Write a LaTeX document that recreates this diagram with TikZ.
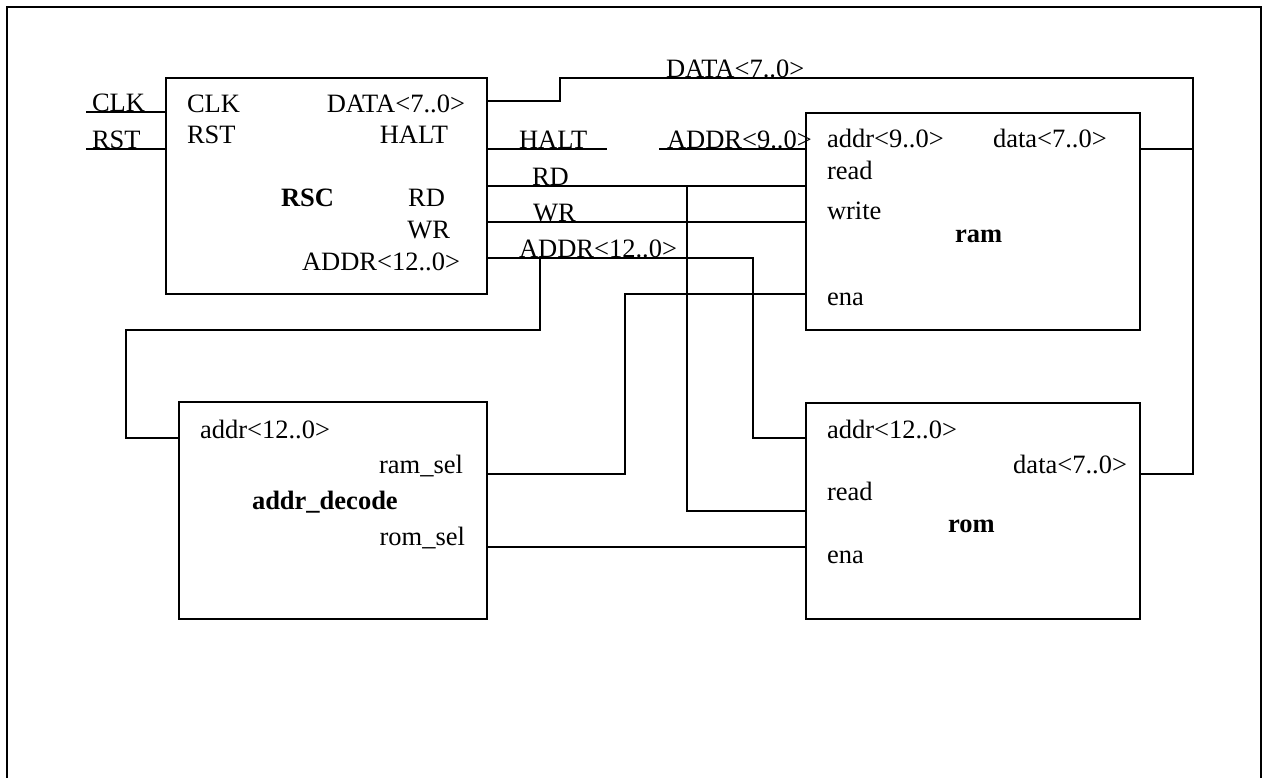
\documentclass[tikz,border=0pt]{standalone}
\usepackage{fontspec}
\setmainfont{Liberation Serif}
\begin{document}
\begin{tikzpicture}[x=1pt,y=-1pt,line width=1.7pt,
  blk/.style={draw,line width=1.8pt,anchor=north west,inner sep=0pt,outer sep=0pt},
  lbl/.style={font=\fontsize{26.5}{30}\selectfont,inner sep=0pt,outer sep=0pt},
  bl/.style={lbl,font=\fontsize{26.5}{30}\selectfont\bfseries},
  wire/.style={draw,line width=1.7pt}]
\useasboundingbox (0,0) rectangle (1266,778);
% outer frame
\coordinate (fbl) at (7,790);
\coordinate (ftl) at (7,7);
\coordinate (ftr) at (1261,7);
\coordinate (fbr) at (1261,790);
\draw[line width=2.7pt] (fbl) -- (ftl) -- (ftr) -- (fbr);
% blocks
\node[blk,minimum width=321pt,minimum height=216pt] (rsc) at (166,78) {};
\node[blk,minimum width=334pt,minimum height=217pt] (ram) at (806,113) {};
\node[blk,minimum width=308pt,minimum height=217pt] (dec) at (179,402) {};
\node[blk,minimum width=334pt,minimum height=216pt] (rom) at (806,403) {};
% port coordinates
\coordinate (clkin) at (86,112);
\coordinate (rstin) at (86,149);
\coordinate (dA) at (560,101);
\coordinate (dB) at (560,78);
\coordinate (dC) at (1193,78);
\coordinate (dD) at (1193,474);
\coordinate (dJ) at (1193,149);
\coordinate (haltend) at (607,149);
\coordinate (a9start) at (659,149);
\coordinate (rdJ) at (687,186);
\coordinate (rdB) at (687,511);
\coordinate (a12A) at (753,258);
\coordinate (a12B) at (753,438);
\coordinate (a12J) at (540,258);
\coordinate (a12C) at (540,330);
\coordinate (a12D) at (126,330);
\coordinate (a12E) at (126,438);
\coordinate (rsA) at (625,474);
\coordinate (rsB) at (625,294);
% wires
\draw (clkin) -- (clkin -| rsc.west);
\draw (rstin) -- (rstin -| rsc.west);
\draw (dA -| rsc.east) -- (dA) -- (dB) -- (dC) -- (dD) -- (dD -| rom.east);
\draw (dJ -| ram.east) -- (dJ);
\draw (haltend -| rsc.east) -- (haltend);
\draw (a9start) -- (a9start -| ram.west);
\draw (rdJ -| rsc.east) -- (rdJ -| ram.west);
\draw (rdJ) -- (rdB) -- (rdB -| rom.west);
\draw (rsc.east |- 0,222) -- (ram.west |- 0,222);
\draw (a12A -| rsc.east) -- (a12A) -- (a12B) -- (a12B -| rom.west);
\draw (a12J) -- (a12C) -- (a12D) -- (a12E) -- (a12E -| dec.west);
\draw (rsA -| dec.east) -- (rsA) -- (rsB) -- (rsB -| ram.west);
\draw (dec.east |- 0,547) -- (rom.west |- 0,547);
% wire labels
\node[lbl,anchor=base west] (lclk) at (92,112) {CLK};
\node[lbl,anchor=base west] (lrst) at (92,149) {RST};
\node[lbl,anchor=base west] (ldata) at (666,78) {DATA<7..0>};
\node[lbl,anchor=base west] (lhalt) at (519,149) {HALT};
\node[lbl,anchor=base west] (la9) at (667,149) {ADDR<9..0>};
\node[lbl,anchor=base west] (lrd) at (532,186) {RD};
\node[lbl,anchor=base west] (lwr) at (533,222) {WR};
\node[lbl,anchor=base west] (la12) at (519,258) {ADDR<12..0>};
% RSC labels
\node[lbl,anchor=base west] (rclk) at (187,113) {CLK};
\node[lbl,anchor=base west] (rrst) at (187,144) {RST};
\node[lbl,anchor=base east] (rdata) at (465,113) {DATA<7..0>};
\node[lbl,anchor=base east] (rhalt) at (448,144) {HALT};
\node[bl,anchor=base west] (rname) at (281,207) {RSC};
\node[lbl,anchor=base east] (rrd) at (445,207) {RD};
\node[lbl,anchor=base east] (rwr) at (450,238) {WR};
\node[lbl,anchor=base east] (raddr) at (460,270) {ADDR<12..0>};
% ram labels
\node[lbl,anchor=base west] (maddr) at (827,148) {addr<9..0>};
\node[lbl,anchor=base west] (mdata) at (993,148) {data<7..0>};
\node[lbl,anchor=base west] (mread) at (827,180) {read};
\node[lbl,anchor=base west] (mwrite) at (827,220) {write};
\node[bl,anchor=base west] (mname) at (955,243) {ram};
\node[lbl,anchor=base west] (mena) at (827,305) {ena};
% rom labels
\node[lbl,anchor=base west] (oaddr) at (827,438) {addr<12..0>};
\node[lbl,anchor=base east] (odata) at (1127,473) {data<7..0>};
\node[lbl,anchor=base west] (oread) at (827,500) {read};
\node[bl,anchor=base west] (oname) at (948,532) {rom};
\node[lbl,anchor=base west] (oena) at (827,563) {ena};
% addr_decode labels
\node[lbl,anchor=base west] (daddr) at (200,438) {addr<12..0>};
\node[lbl,anchor=base east] (dram) at (463,473) {ram\_sel};
\node[bl,anchor=base west] (dname) at (252,509) {addr\_decode};
\node[lbl,anchor=base east] (drom) at (465,545) {rom\_sel};
\end{tikzpicture}
\end{document}
